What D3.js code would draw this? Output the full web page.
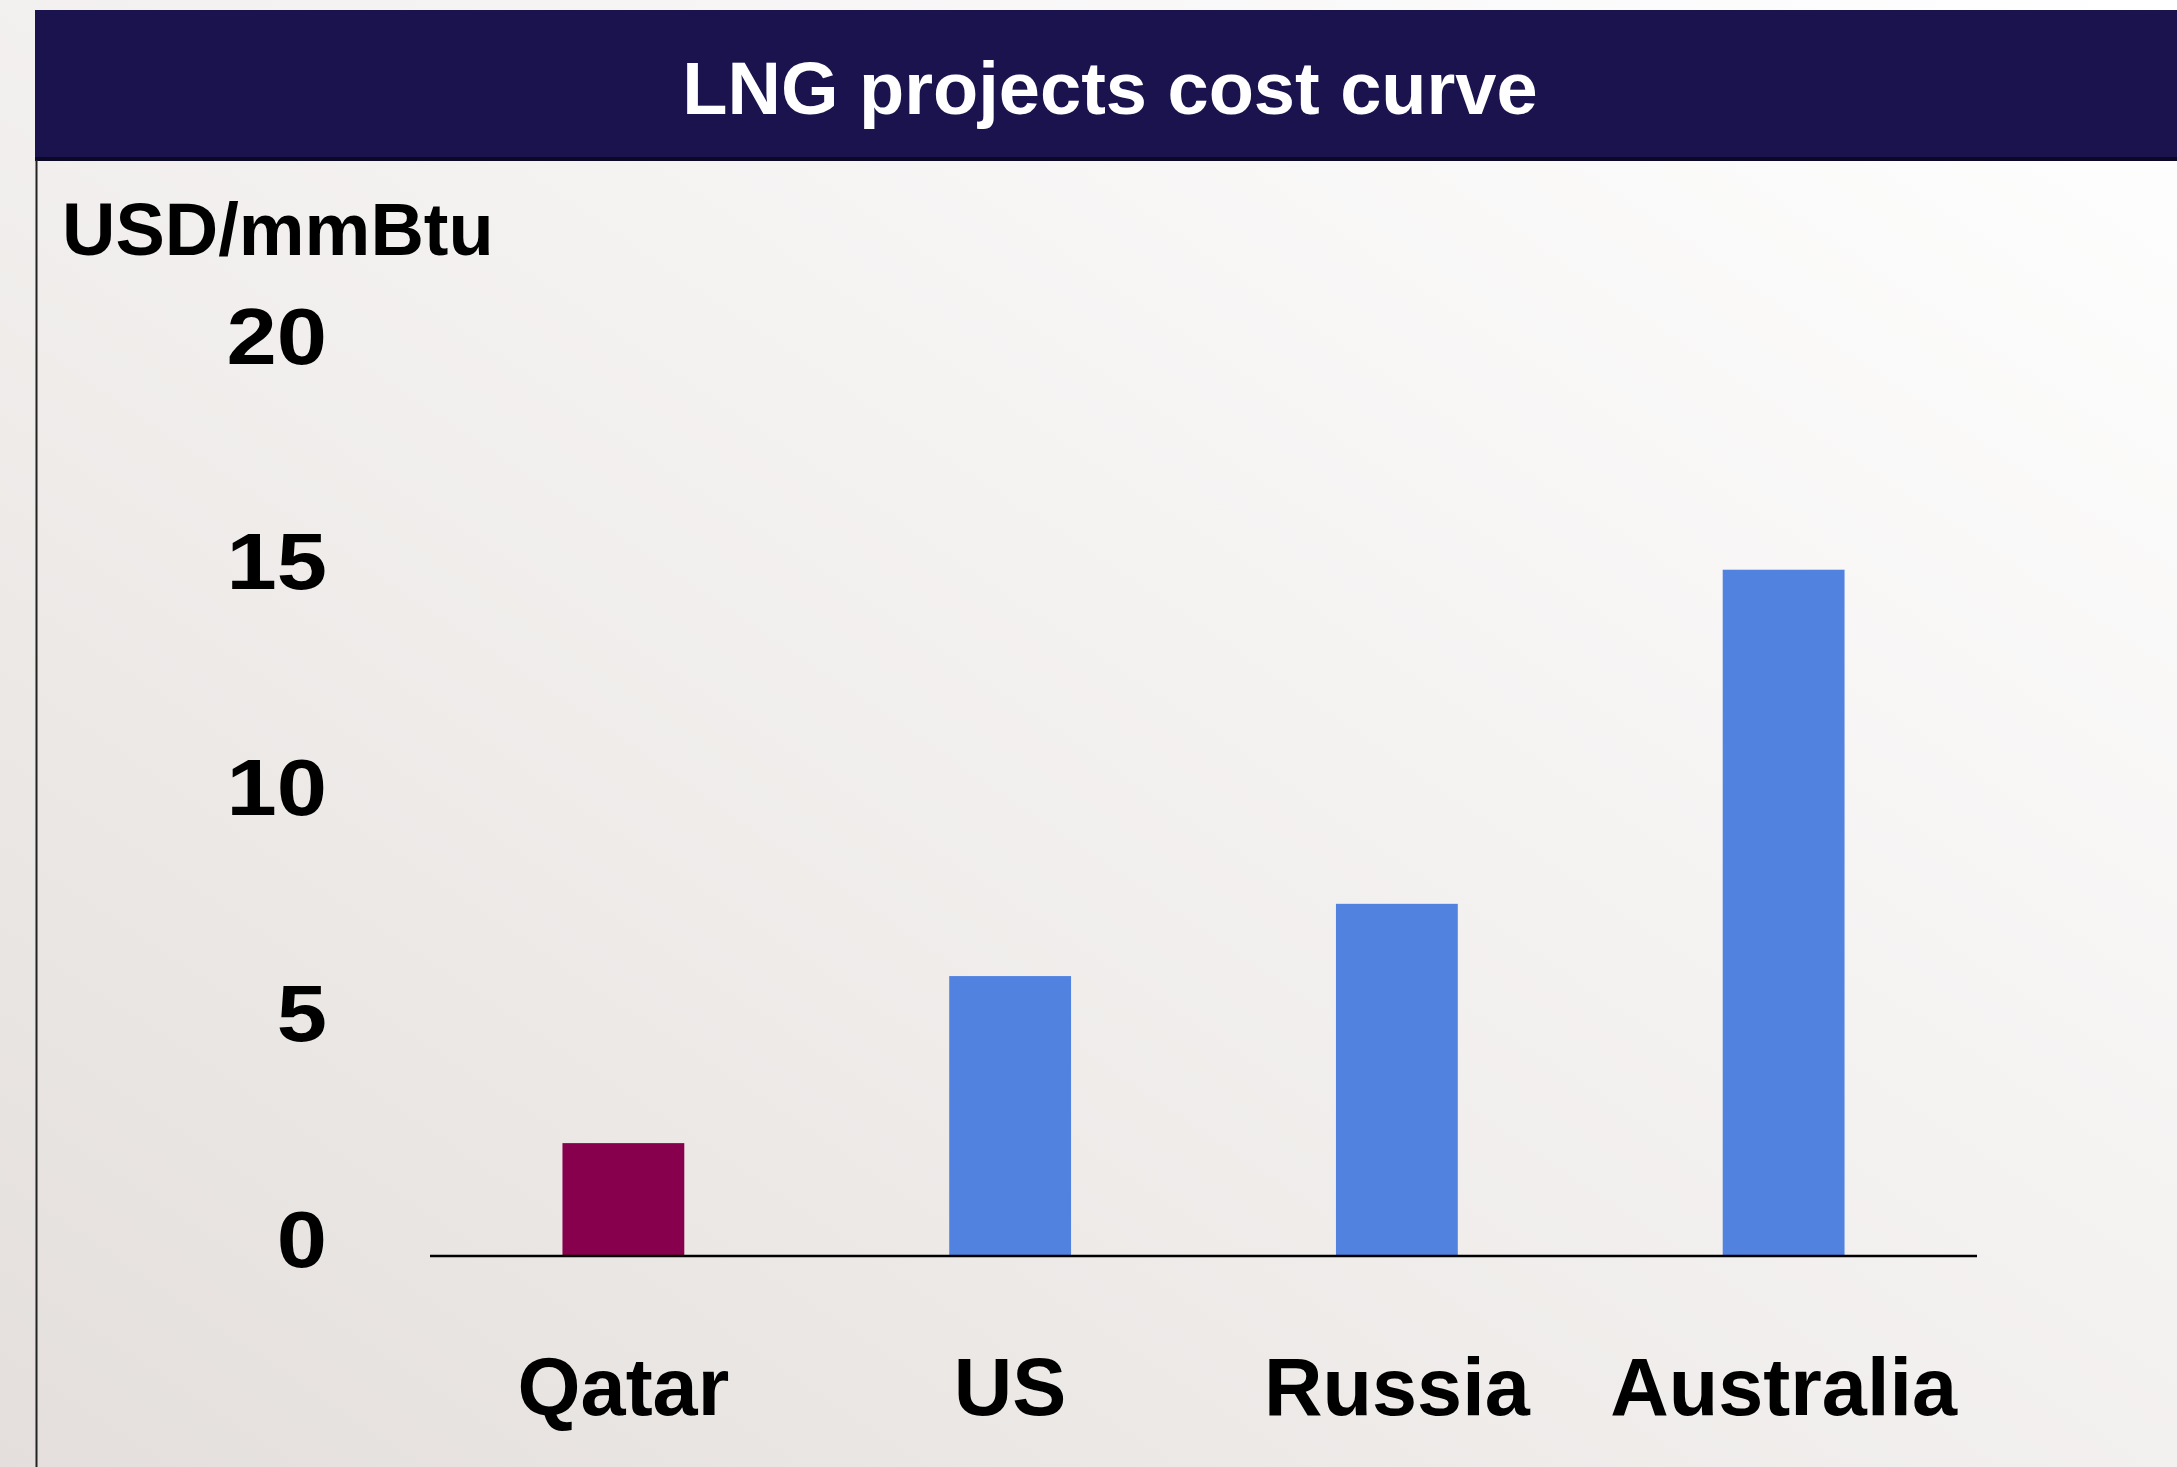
<!DOCTYPE html>
<html>
<head>
<meta charset="utf-8">
<script src="https://cdn.jsdelivr.net/npm/d3@7"></script>
<style>
  html, body { margin: 0; padding: 0; background: #ffffff; }
  svg { display: block; }
</style>
</head>
<body>
<script>
// LNG project breakeven costs by supplier (USD/mmBtu)
const categories = ["Qatar", "US", "Russia", "Australia"];
const costs = [2.5, 6.2, 7.8, 15.2];
const barColors = ["#87004d", "#5282e0", "#5282e0", "#5282e0"];
const yTicks = [0, 5, 10, 15, 20];
const titleText = "LNG projects cost curve";
const unitText = "USD/mmBtu";

const W = 2177, H = 1467;
const svg = d3.select("body").append("svg").attr("width", W).attr("height", H);

// soft warm-grey to white backdrop
const defs = svg.append("defs");
const grad = defs.append("linearGradient").attr("id", "bg")
  .attr("x1", "0%").attr("y1", "100%").attr("x2", "100%").attr("y2", "0%");
grad.append("stop").attr("offset", "0%").attr("stop-color", "#e4dfdc");
grad.append("stop").attr("offset", "55%").attr("stop-color", "#f4f2f1");
grad.append("stop").attr("offset", "100%").attr("stop-color", "#ffffff");
svg.append("rect").attr("width", W).attr("height", H).attr("fill", "url(#bg)");

// header band
svg.append("rect").attr("x", 35).attr("y", 10).attr("width", W - 35).attr("height", 149)
  .attr("fill", "#1a134d");
svg.append("rect").attr("x", 35).attr("y", 157).attr("width", W - 35).attr("height", 4)
  .attr("fill", "#0b0827");
svg.append("text").attr("x", 1110).attr("y", 114)
  .attr("text-anchor", "middle")
  .attr("font-family", "'Liberation Sans', Arial, sans-serif")
  .attr("font-weight", "bold").attr("font-size", 74)
  .attr("fill", "#ffffff").text(titleText);

// left frame line
svg.append("line").attr("x1", 36.5).attr("x2", 36.5).attr("y1", 160).attr("y2", H)
  .attr("stroke", "#222").attr("stroke-width", 2);

// unit label
svg.append("text").attr("x", 62).attr("y", 255)
  .attr("font-family", "'Liberation Sans', Arial, sans-serif")
  .attr("font-weight", "bold").attr("font-size", 74)
  .attr("fill", "#000").text(unitText);

// scales
const x = d3.scaleBand().domain(categories).range([430, 1977])
  .paddingInner(0.685).paddingOuter(0.3425);
const y = d3.scaleLinear().domain([0, 20]).range([1256, 353]);

// bars
svg.append("g").selectAll("rect").data(categories).join("rect")
  .attr("x", d => x(d))
  .attr("width", x.bandwidth())
  .attr("y", (d, i) => y(costs[i]))
  .attr("height", (d, i) => y(0) - y(costs[i]))
  .attr("fill", (d, i) => barColors[i]);

// y axis: labels only, wide bold digits sitting just below each tick
const yAxis = d3.axisLeft(y).tickValues(yTicks).tickSize(0).tickPadding(0);
const gy = svg.append("g").attr("transform", "translate(327,0)").call(yAxis);
gy.select(".domain").remove();
gy.selectAll("text")
  .attr("x", 0).attr("dy", 10).attr("dominant-baseline", "alphabetic")
  .attr("transform", "scale(1.13,1)")
  .attr("font-family", "'Liberation Sans', Arial, sans-serif")
  .attr("font-weight", "bold").attr("font-size", 80)
  .attr("fill", "#000");

// x axis baseline and category labels
const xAxis = d3.axisBottom(x).tickSize(0).tickPadding(0);
const gx = svg.append("g").attr("transform", `translate(0,${y(0)})`).call(xAxis);
gx.select(".domain")
  .attr("d", `M430,0H1977`).attr("stroke", "#000").attr("stroke-width", 2.5);
gx.selectAll("text")
  .attr("y", 159).attr("dy", 0)
  .attr("font-family", "'Liberation Sans', Arial, sans-serif")
  .attr("font-weight", "bold").attr("font-size", 81)
  .attr("fill", "#000");
</script>
</body>
</html>
